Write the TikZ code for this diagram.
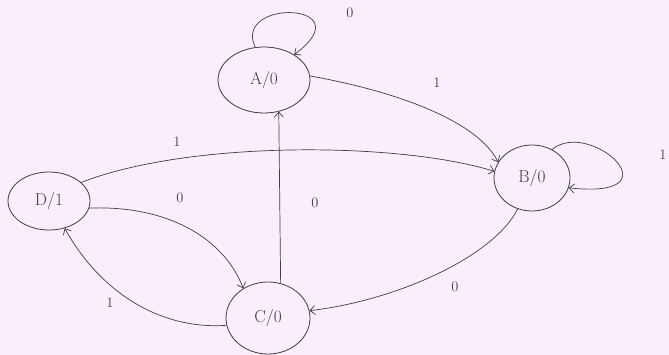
\documentclass[tikz,border=0pt]{standalone}
\usepackage{tikz}
\usetikzlibrary{shapes.geometric,arrows.meta}
\definecolor{paper}{RGB}{249,239,250}
\definecolor{pen}{RGB}{62,60,78}

\begin{document}
\begin{tikzpicture}[
    x=1pt, y=-1pt,
    st/.style={ellipse, draw=pen, line width=0.8pt, inner sep=0pt, font=\LARGE, text=pen},
    ed/.style={-{Straight Barb[length=5pt,width=9pt]}, draw=pen, line width=0.7pt},
    txt/.style={font=\Large, text=pen},
]
\fill[paper] (0,0) rectangle (669,355);
\useasboundingbox (0,0) rectangle (669,355);
% states
\node[st, minimum width=92pt, minimum height=66pt] (A) at (264,80) {A/0};
\node[st, minimum width=76pt, minimum height=66pt] (B) at (532,178) {B/0};
\node[st, minimum width=82pt, minimum height=58pt] (D) at (49,201) {D/1};
\node[st, minimum width=84pt, minimum height=72pt] (C) at (268,318) {C/0};
% transitions
\draw[ed] (A.105) .. controls (232,-2) and (365,2) .. (A.40);
\draw[ed] (A.5) .. controls (400,92) and (478,122) .. (B.155);
\draw[ed] (D.30) .. controls (190,140) and (400,142) .. (B.170);
\draw[ed] (B.55) .. controls (590,118) and (680,200) .. (B.-15);
\draw[ed] (D.-10) .. controls (170,205) and (225,240) .. (C.130);
\draw[ed] (C.190) .. controls (160,330) and (100,292) .. (D.-60);
\draw[ed] (C.70) -- (A.-65);
\draw[ed] (B.-115) .. controls (495,255) and (400,300) .. (C.10);
% input labels
\foreach \nm/\p/\t in {lA/{350,13}/0, lAB/{437,83}/1, lDB/{177,142}/1, lB/{663,155}/1,
                       lDC/{180,198}/0, lCA/{315,203}/0, lBC/{455,287}/0, lCD/{110,303}/1} {
  \node[txt] (\nm) at (\p) {\t};
}
\end{tikzpicture}
\end{document}
